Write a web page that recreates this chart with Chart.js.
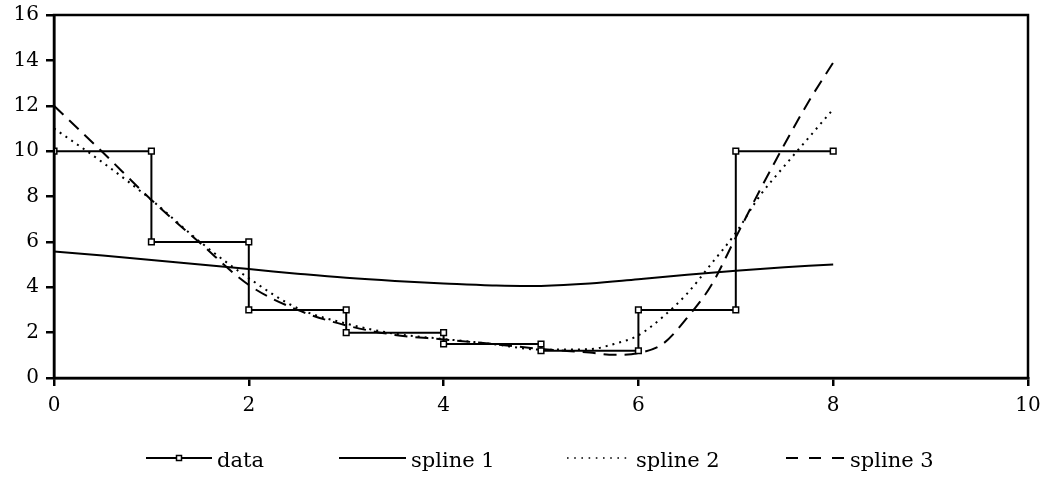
<!DOCTYPE html>
<html>
<head>
<meta charset="utf-8">
<script src="https://cdn.jsdelivr.net/npm/chart.js@4.4.1/dist/chart.umd.min.js"></script>
<style>
  body { margin: 0; background: #fff; }
  #wrap { position: relative; width: 1046px; height: 479px; }
  .item { position: absolute; top: 446px; height: 28px; display: flex; align-items: center;
          font-family: "DejaVu Serif", serif; font-size: 21px; color: #000; white-space: nowrap; }
  .item svg { margin-right: 5px; position: relative; top: -2px; }
</style>
</head>
<body>
<div id="wrap">
  <canvas id="myChart" width="1046" height="479"></canvas>
  <div class="item" style="left:146px">
    <svg width="66" height="10"><line x1="0" y1="5" x2="66" y2="5" stroke="#000" stroke-width="2"/><rect x="30.5" y="2.5" width="5" height="5" fill="#fff" stroke="#000" stroke-width="1.5"/></svg>data
  </div>
  <div class="item" style="left:339px">
    <svg width="67" height="10"><line x1="0" y1="5" x2="67" y2="5" stroke="#000" stroke-width="2"/></svg>spline 1
  </div>
  <div class="item" style="left:566px">
    <svg width="65" height="10"><line x1="1" y1="5" x2="65" y2="5" stroke="#000" stroke-width="1.6" stroke-dasharray="1.6 5.6"/></svg>spline 2
  </div>
  <div class="item" style="left:786px">
    <svg width="59" height="10"><line x1="0" y1="5" x2="59" y2="5" stroke="#000" stroke-width="2" stroke-dasharray="12 11"/></svg>spline 3
  </div>
</div>
<script>
// measured points (step data)
var dataX = [0, 1, 1, 2, 2, 3, 3, 4, 4, 5, 5, 6, 6, 7, 7, 8];
var dataY = [10, 10, 6, 6, 3, 3, 2, 2, 1.5, 1.5, 1.2, 1.2, 3, 3, 10, 10];

// spline 1 (solid)
var s1X = [0, 0.5, 1, 1.5, 2, 2.5, 3, 3.5, 4, 4.5, 5, 5.5, 6, 6.5, 7, 7.5, 8];
var s1Y = [5.58, 5.4, 5.2, 5.0, 4.8, 4.6, 4.42, 4.28, 4.17, 4.08, 4.06, 4.16, 4.35, 4.55, 4.73, 4.88, 5.0];

// spline 2 (dotted)
var s2X = [0, 0.5, 1, 1.5, 2, 2.5, 3, 3.5, 4, 4.5, 5, 5.5, 5.75, 6, 6.25, 6.5, 6.75, 7, 7.25, 7.5, 7.75, 8];
var s2Y = [11.0, 9.5, 7.85, 6.0, 4.4, 3.08, 2.4, 1.95, 1.72, 1.5, 1.25, 1.27, 1.5, 1.88, 2.69, 3.72, 5.04, 6.4, 8.05, 9.35, 10.6, 11.85];

// spline 3 (dashed)
var s3X = [0, 0.5, 1, 1.5, 2, 2.5, 3, 3.5, 4, 4.5, 5, 5.5, 5.75, 6, 6.25, 6.5, 6.75, 7, 7.25, 7.5, 7.75, 8];
var s3Y = [12.0, 9.95, 7.85, 5.95, 4.1, 3.0, 2.32, 1.9, 1.7, 1.5, 1.28, 1.12, 1.02, 1.1, 1.5, 2.65, 4.1, 6.2, 8.3, 10.3, 12.2, 13.9];

var xTicks = [0, 2, 4, 6, 8, 10];
var yTicks = [0, 2, 4, 6, 8, 10, 12, 14, 16];

function toPoints(xs, ys) {
  var pts = [];
  for (var i = 0; i < xs.length; i++) {
    pts.push({x: xs[i], y: ys[i]});
  }
  return pts;
}

// draw the box round the plot area
var frame = {
  id: 'frame',
  afterDraw: function(chart) {
    var a = chart.chartArea, ctx = chart.ctx;
    ctx.save();
    ctx.strokeStyle = '#000';
    ctx.lineWidth = 2.5;
    ctx.strokeRect(a.left, a.top, a.right - a.left, a.bottom - a.top);
    ctx.restore();
  }
};

var tickFont = {family: 'DejaVu Serif', size: 20};

var ctx = document.getElementById("myChart").getContext("2d");
var myChart = new Chart(ctx, {
  type: 'line',
  data: {
    datasets: [
      { label: "data", data: toPoints(dataX, dataY), borderColor: '#000', borderWidth: 2,
        tension: 0, pointStyle: 'rect', pointRadius: 4, pointBackgroundColor: '#fff',
        pointBorderColor: '#000', pointBorderWidth: 1.5 },
      { label: "spline 1", data: toPoints(s1X, s1Y), borderColor: '#000', borderWidth: 2,
        tension: 0.4, pointRadius: 0 },
      { label: "spline 2", data: toPoints(s2X, s2Y), borderColor: '#000', borderWidth: 2,
        borderDash: [2, 5], cubicInterpolationMode: 'monotone', pointRadius: 0 },
      { label: "spline 3", data: toPoints(s3X, s3Y), borderColor: '#000', borderWidth: 2,
        borderDash: [13, 8], cubicInterpolationMode: 'monotone', pointRadius: 0 }
    ]
  },
  options: {
    responsive: false,
    animation: false,
    devicePixelRatio: 1,
    layout: { padding: { left: 0, right: 18, top: 15, bottom: 0 } },
    plugins: { legend: { display: false }, tooltip: { enabled: false } },
    scales: {
      x: {
        type: 'linear', min: 0, max: 10,
        afterBuildTicks: function(s) { s.ticks = xTicks.map(function(v) { return {value: v}; }); },
        afterFit: function(s) { s.height = 101; s.paddingLeft = 0; s.paddingRight = 0; },
        ticks: { color: '#000', font: tickFont, padding: 8, maxRotation: 0 },
        grid: { drawOnChartArea: false, tickLength: 8, color: '#000', lineWidth: 2.5 },
        border: { color: '#000', width: 2.5 }
      },
      y: {
        min: 0, max: 16,
        afterBuildTicks: function(s) { s.ticks = yTicks.map(function(v) { return {value: v}; }); },
        afterFit: function(s) { s.width = 54; s.paddingTop = 0; s.paddingBottom = 0; },
        ticks: { color: '#000', font: tickFont, padding: 7 },
        grid: { drawOnChartArea: false, tickLength: 8, color: '#000', lineWidth: 2.5 },
        border: { color: '#000', width: 2.5 }
      }
    }
  },
  plugins: [frame]
});
</script>
</body>
</html>
